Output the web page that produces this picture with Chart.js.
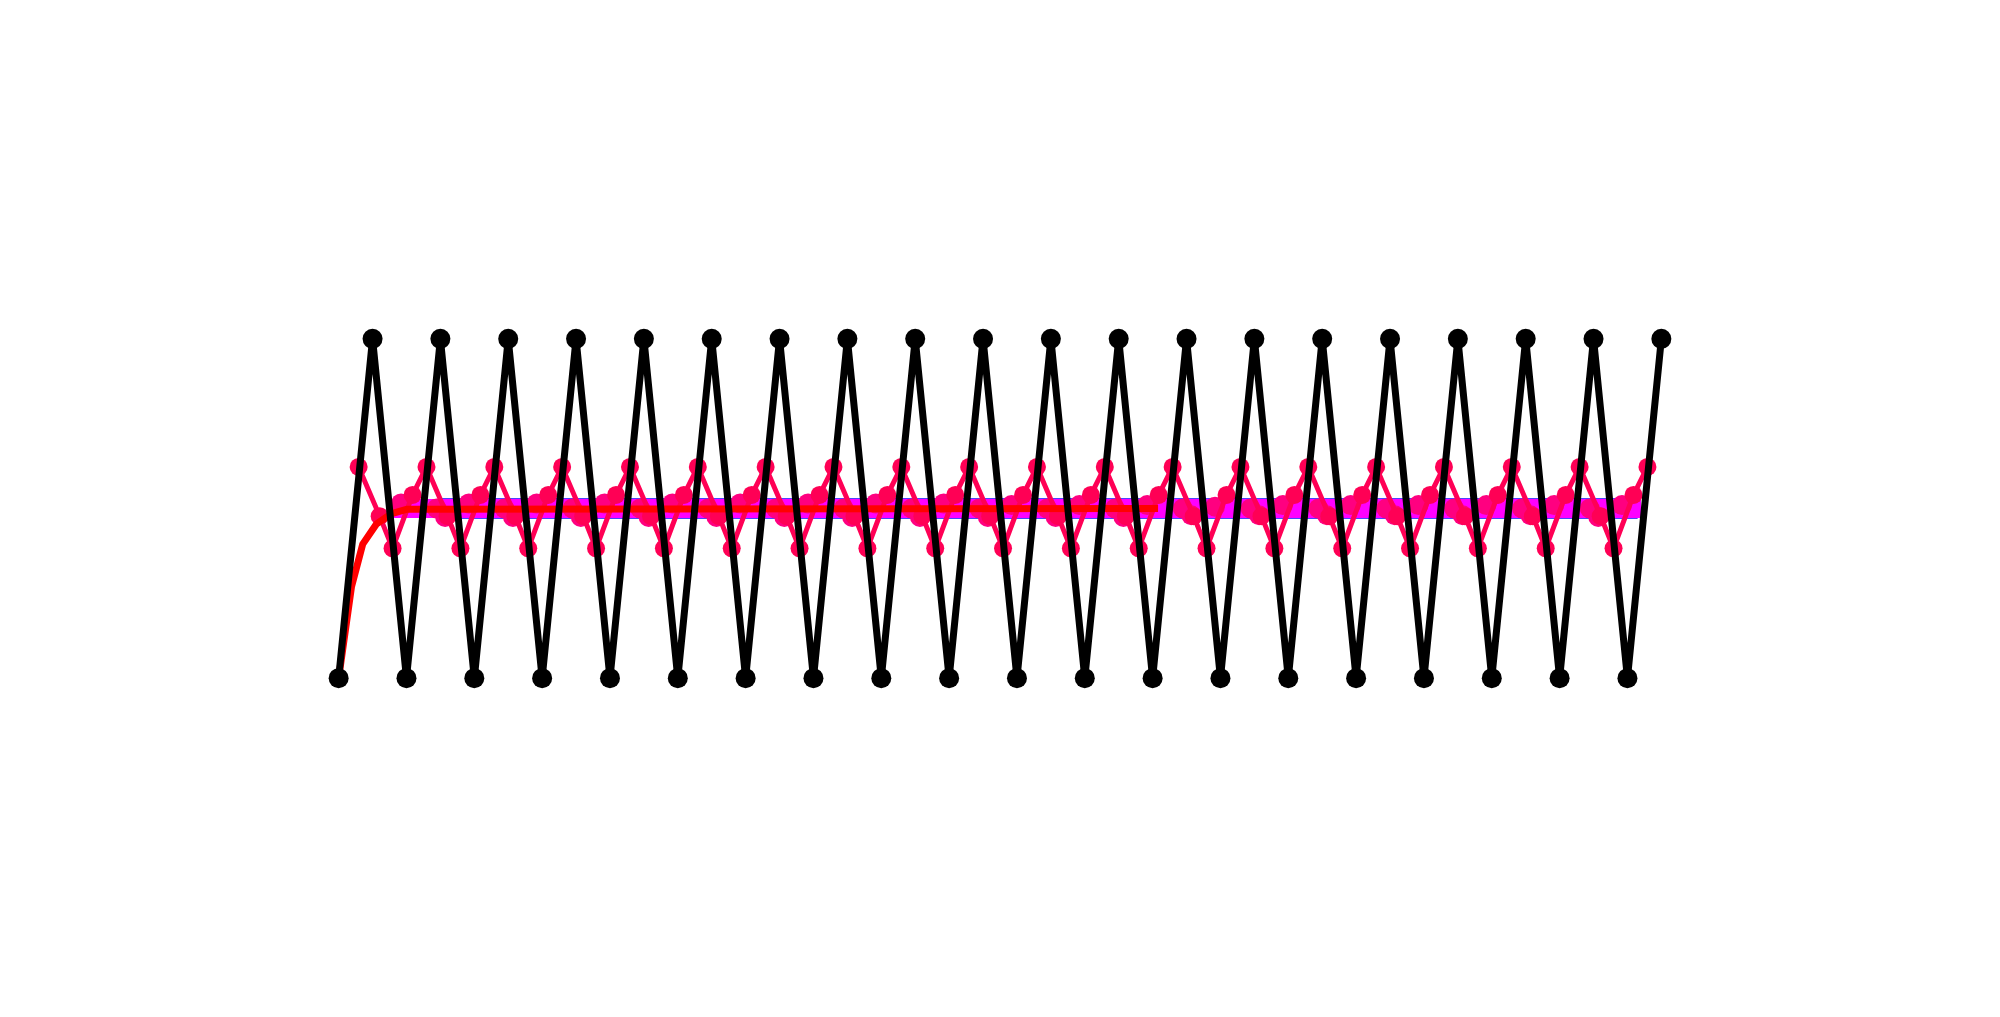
<!DOCTYPE html>
<html>
<head>
<meta charset="UTF-8">
<title>chart</title>
<script src="https://cdn.jsdelivr.net/npm/chart.js"></script>
<style>
    html, body { margin: 0; padding: 0; background: #fff; }
    #box { width: 2000px; height: 1017px; }
</style>
</head>
<body>
<div id="box"><canvas id="grafico"></canvas></div>
<script>
// black zigzag, one value per step
var blackValues = [-1, 1, -1, 1, -1, 1, -1, 1, -1, 1, -1, 1, -1, 1, -1, 1, -1, 1, -1, 1,
                   -1, 1, -1, 1, -1, 1, -1, 1, -1, 1, -1, 1, -1, 1, -1, 1, -1, 1, -1, 1];

// pink series (x, y)
var pinkX = [0.59, 1.21, 1.59, 2.18, 2.59, 3.21, 3.59, 4.18, 4.59, 5.21, 5.59, 6.18, 6.59, 7.21, 7.59, 8.18,
             8.59, 9.21, 9.59, 10.18, 10.59, 11.21, 11.59, 12.18, 12.59, 13.21, 13.59, 14.18, 14.59, 15.21, 15.59, 16.18,
             16.59, 17.21, 17.59, 18.18, 18.59, 19.21, 19.59, 20.18, 20.59, 21.21, 21.59, 22.18, 22.59, 23.21, 23.59, 24.18,
             24.59, 25.21, 25.59, 26.18, 26.59, 27.21, 27.59, 28.18, 28.59, 29.21, 29.59, 30.18, 30.59, 31.21, 31.59, 32.18,
             32.59, 33.21, 33.59, 34.18, 34.59, 35.21, 35.59, 36.18, 36.59, 37.21, 37.59, 38.18, 38.59];
var pinkY = [0.245, -0.045, -0.235, 0.08, 0.245, -0.045, -0.235, 0.08, 0.245, -0.045, -0.235, 0.08, 0.245, -0.045, -0.235, 0.08,
             0.245, -0.045, -0.235, 0.08, 0.245, -0.045, -0.235, 0.08, 0.245, -0.045, -0.235, 0.08, 0.245, -0.045, -0.235, 0.08,
             0.245, -0.045, -0.235, 0.08, 0.245, -0.045, -0.235, 0.08, 0.245, -0.045, -0.235, 0.08, 0.245, -0.045, -0.235, 0.08,
             0.245, -0.045, -0.235, 0.08, 0.245, -0.045, -0.235, 0.08, 0.245, -0.045, -0.235, 0.08, 0.245, -0.045, -0.235, 0.08,
             0.245, -0.045, -0.235, 0.08, 0.245, -0.045, -0.235, 0.08, 0.245, -0.045, -0.235, 0.08, 0.245];

// small circles sitting on the band
var dotsX = [1.84,
             2.89, 3.14, 3.84, 4.89, 5.14, 5.84, 6.89, 7.14, 7.84, 8.89, 9.14, 9.84,
             10.89, 11.14, 11.84, 12.89, 13.14, 13.84, 14.89, 15.14, 15.84, 16.89, 17.14, 17.84,
             18.89, 19.14, 19.84, 20.89, 21.14, 21.84, 22.89, 23.14, 23.84, 24.89, 25.14, 25.84,
             26.89, 27.14, 27.84, 28.89, 29.14, 29.84, 30.89, 31.14, 31.84, 32.89, 33.14, 33.84,
             34.89, 35.14, 35.84, 36.89, 37.14, 37.84];
var dotsY = [0.03,
             0.0, -0.05, 0.03, 0.0, -0.05, 0.03, 0.0, -0.05, 0.03, 0.0, -0.05, 0.03,
             0.0, -0.05, 0.03, 0.0, -0.05, 0.03, 0.0, -0.05, 0.03, 0.0, -0.05, 0.03,
             0.0, -0.05, 0.02, 0.0, -0.05, 0.02, 0.0, -0.05, 0.02, 0.0, -0.04, 0.01,
             0.0, -0.04, 0.02, 0.0, -0.04, 0.02, 0.0, -0.04, 0.02, 0.0, -0.04, 0.02,
             0.0, -0.04, 0.02, 0.0, -0.05, 0.02];

// red curve
var redX = [0, 0.38, 0.71, 1.12, 1.56, 2.0, 24.16];
var redY = [-1, -0.46, -0.21, -0.09, -0.03, -0.005, 0];

// thick band lines
var bandX = [1.6, 38.4];
var bandY = [0, 0];
var blueX = [3.0, 38.3];
var blueY = [0, 0];

function pares(xs, ys) {
    var out = [];
    for (var i = 0; i < xs.length; i++) {
        out.push({ x: xs[i], y: ys[i] });
    }
    return out;
}

var blackPts = [];
for (var i = 0; i < blackValues.length; i++) {
    blackPts.push({ x: i, y: blackValues[i] });
}

const config = {
    type: 'line',
    data: {
        datasets: [
            {
                data: blackPts, borderColor: '#000', backgroundColor: '#000',
                borderWidth: 7, pointRadius: 10, pointBorderWidth: 0, order: 0
            },
            {
                data: pares(redX, redY), borderColor: '#ff0000',
                borderWidth: 7, pointRadius: 0, order: 1
            },
            {
                data: pares(pinkX, pinkY), borderColor: 'rgb(255,0,85)', backgroundColor: 'rgb(255,0,85)',
                borderWidth: 5, pointRadius: 9, pointBorderWidth: 0, order: 2
            },
            {
                data: pares(dotsX, dotsY), showLine: false, borderColor: 'rgb(255,0,128)', backgroundColor: 'rgb(255,0,128)',
                pointRadius: 10, pointBorderWidth: 0, order: 3
            },
            {
                data: pares(bandX, bandY), borderColor: '#ff00ff',
                borderWidth: 19, pointRadius: 0, borderCapStyle: 'butt', order: 4
            },
            {
                data: pares(blueX, blueY), borderColor: 'rgb(70,70,255)',
                borderWidth: 21, pointRadius: 0, borderCapStyle: 'butt', order: 5
            }
        ]
    },
    options: {
        responsive: true,
        maintainAspectRatio: false,
        animation: false,
        layout: { padding: 0 },
        elements: { line: { tension: 0, borderJoinStyle: 'round' } },
        plugins: { legend: { display: false }, tooltip: { enabled: false } },
        scales: {
            x: { type: 'linear', min: -9.69, max: 48.69, display: false },
            y: { type: 'linear', min: -2.938, max: 2.938, display: false }
        }
    }
};

let grafico = new Chart(document.getElementById('grafico'), config);
</script>
</body>
</html>
